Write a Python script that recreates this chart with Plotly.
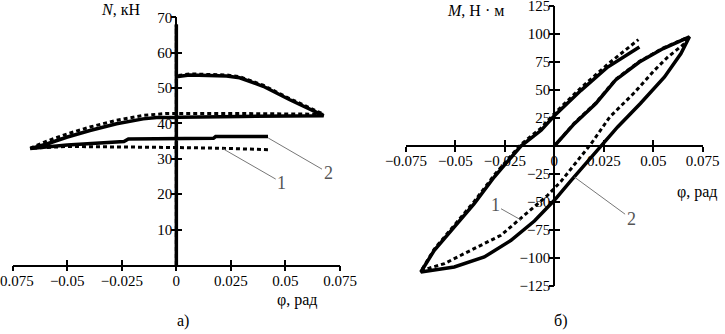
import plotly.graph_objects as go

# ---------------- data: chart a) N(phi) ----------------
phi_a_2 = [0, 0, 0, 0.006, 0.023, 0.029, 0.0398, 0.052, 0.0675, 0.03, -0.009, -0.0152,
           -0.0274, -0.0396, -0.0503, -0.0594, -0.067, -0.05, -0.024, -0.022, 0.017, 0.018, 0.042]
N_a_2 = [0, 68, 53.2, 53.7, 53.4, 52.9, 50.5, 46.7, 42.2, 42.0, 41.7, 41.3,
         39.9, 38.0, 36.1, 34.2, 32.9, 33.9, 34.9, 35.6, 35.8, 36.3, 36.3]

phi_a_1 = [0, 0, 0, 0.006, 0.023, 0.029, 0.0398, 0.052, 0.0675, 0.03, -0.005, -0.015,
           -0.0274, -0.0396, -0.0503, -0.0594, -0.067, -0.05, -0.025, 0, 0.02, 0.042]
N_a_1 = [0, 68, 53.5, 54.0, 53.7, 53.2, 50.8, 47.0, 42.6, 42.8, 42.8, 42.3,
         40.9, 39.0, 37.0, 35.0, 33.0, 33.5, 33.4, 33.2, 33.0, 32.6]

# ---------------- data: chart б) M(phi) ----------------
phi_b_2 = [0, 0.0101, 0.021, 0.031, 0.043, 0.055, 0.0683,
           0.064, 0.0557, 0.0435, 0.032, 0.0236, 0.0169, 0.0084, 0, -0.0101, -0.0219,
           -0.0354, -0.0506, -0.0675,
           -0.0607, -0.0506, -0.0405, -0.0304, -0.0202, -0.0169, -0.0067, 0, 0.0135, 0.027, 0.043]
M_b_2 = [0, 20, 38, 59, 75, 87, 97.5,
         82.5, 61.6, 37.9, 17, 0, -13, -31, -48.5, -67, -84.2,
         -99.1, -108, -112.5,
         -93.1, -72.3, -51.4, -27.7, -6.8, 0, 14, 27, 49.7, 70.5, 88.4]

phi_b_1 = [0, 0.0101, 0.021, 0.031, 0.043, 0.055, 0.0675,
           0.0658, 0.0574, 0.0506, 0.040, 0.028, 0.0186, 0.0118, 0.0067, 0.0034, -0.0034,
           -0.0169, -0.027, -0.0422, -0.0556, -0.064, -0.0675,
           -0.0607, -0.0506, -0.0405, -0.0304, -0.0202, -0.0169, -0.0067, 0, 0.0135, 0.027, 0.0425]
M_b_1 = [0, 20.5, 38.5, 59.5, 75.5, 87.5, 97,
         91.4, 79.5, 67.6, 46.8, 25.9, 2.1, -12.8, -24.6, -31.5, -44,
         -64.8, -79.7, -93.1, -105, -109.5, -112,
         -92, -70.5, -49.5, -26, -5, 1.5, 16, 29, 52, 73, 95]

# ---------------- ticks ----------------
x_tickvals = [-0.075, -0.05, -0.025, 0, 0.025, 0.05, 0.075]
x_ticktext = ["\u22120.075", "\u22120.05", "\u22120.025", "0", "0.025", "0.05", "0.075"]
ya_tickvals = [10, 20, 30, 40, 50, 60, 70]
yb_tickvals = [-125, -100, -75, -50, -25, 25, 50, 75, 100, 125]
yb_ticktext = ["\u2212125", "\u2212100", "\u221275", "\u221250", "\u221225", "25", "50", "75", "100", "125"]

FONT = "Times New Roman, Liberation Serif, serif"
fig = go.Figure()

solid = dict(color="black", width=3.5)
dashed = dict(color="black", width=3, dash="4px,3px")

fig.add_trace(go.Scatter(x=phi_a_2, y=N_a_2, mode="lines", line=solid, xaxis="x", yaxis="y", name="2"))
fig.add_trace(go.Scatter(x=phi_a_1, y=N_a_1, mode="lines", line=dashed, xaxis="x", yaxis="y", name="1"))
fig.add_trace(go.Scatter(x=phi_b_2, y=M_b_2, mode="lines", line=solid, xaxis="x2", yaxis="y2", name="2"))
fig.add_trace(go.Scatter(x=phi_b_1, y=M_b_1, mode="lines", line=dashed, xaxis="x2", yaxis="y2", name="1"))

xa_dom = [12.7 / 725, 340 / 725]
ya_dom = [(334 - 265) / 334, (334 - 17.3) / 334]
xb_dom = [406 / 725, 702.7 / 725]
yb_dom = [(334 - 286) / 334, (334 - 6) / 334]
xa_mid = sum(xa_dom) / 2
xb_mid = sum(xb_dom) / 2
yb_mid = sum(yb_dom) / 2

tickfont = dict(family=FONT, size=15, color="black")
common = dict(showgrid=False, zeroline=False, showline=True, linecolor="black", linewidth=2,
              ticks="inside", ticklen=5, tickwidth=2, tickcolor="black", tickfont=tickfont,
              automargin=False, ticklabeloverflow="allow")
over = dict(showgrid=False, zeroline=False, showline=False, ticks="outside", ticklen=5,
            tickwidth=2, tickcolor="black", showticklabels=False, automargin=False)

fig.update_layout(
    width=725, height=334, margin=dict(l=0, r=0, t=0, b=0, autoexpand=False),
    paper_bgcolor="white", plot_bgcolor="white", showlegend=False,
    font=dict(family=FONT, color="black"),
    xaxis=dict(domain=xa_dom, range=[-0.075, 0.075], tickvals=x_tickvals, ticktext=x_ticktext,
               anchor="y", ticklabelstandoff=1, **common),
    yaxis=dict(domain=ya_dom, range=[0, 70], tickvals=ya_tickvals, anchor="free",
               position=xa_mid, **common),
    xaxis2=dict(domain=xb_dom, range=[-0.075, 0.075], tickvals=x_tickvals, ticktext=x_ticktext,
                anchor="free", position=yb_mid, ticklabelstandoff=1, **common),
    yaxis2=dict(domain=yb_dom, range=[-125, 125], tickvals=yb_tickvals, ticktext=yb_ticktext,
                anchor="free", position=xb_mid, **common),
    xaxis3=dict(overlaying="x", range=[-0.075, 0.075], tickvals=x_tickvals, anchor="y", **over),
    yaxis3=dict(overlaying="y", range=[0, 70], tickvals=ya_tickvals, anchor="free",
                position=xa_mid, **over),
    xaxis4=dict(overlaying="x2", range=[-0.075, 0.075], tickvals=x_tickvals, anchor="free",
                position=yb_mid, **over),
    yaxis4=dict(overlaying="y2", range=[-125, 125], tickvals=yb_tickvals, anchor="free",
                position=xb_mid, **over),
)

# invisible helper traces so the overlay tick axes render
fig.add_trace(go.Scatter(x=[0], y=[0], mode="markers", marker=dict(opacity=0), xaxis="x3", yaxis="y3",
                         hoverinfo="skip"))
fig.add_trace(go.Scatter(x=[0], y=[0], mode="markers", marker=dict(opacity=0), xaxis="x4", yaxis="y4",
                         hoverinfo="skip"))

lab = dict(family=FONT, size=16, color="black")
notes = [
    ("<i>N</i>, кН", 121, 9),
    ("<i>M</i>, Н · м", 475, 10),
    ("φ, рад", 297, 300),
    ("φ, рад", 697, 192),
    ("а)", 183, 321),
    ("б)", 560, 321),
]
for t, px, py in notes:
    fig.add_annotation(text=t, x=px / 725, y=1 - py / 334, xref="paper", yref="paper",
                       showarrow=False, font=lab, xanchor="center", yanchor="middle")

lead = dict(showarrow=True, arrowhead=0, arrowwidth=1, arrowcolor="#777777",
            font=dict(family=FONT, size=18, color="#555555"))
fig.add_annotation(text="2", x=0.0421, y=35.9, ax=0.0695, ay=26.1, xref="x", yref="y",
                   axref="x", ayref="y", **lead)
fig.add_annotation(text="1", x=0.0215, y=32.8, ax=0.0483, ay=23.3, xref="x", yref="y",
                   axref="x", ayref="y", **lead)
fig.add_annotation(text="1", x=-0.0169, y=-66, ax=-0.030, ay=-53, xref="x2", yref="y2",
                   axref="x2", ayref="y2", **lead)
fig.add_annotation(text="2", x=0.0101, y=-27.7, ax=0.0388, ay=-64.8, xref="x2", yref="y2",
                   axref="x2", ayref="y2", **lead)

fig.write_html("out.html", config={"displayModeBar": False},
               post_script="document.body.style.margin='0';")
